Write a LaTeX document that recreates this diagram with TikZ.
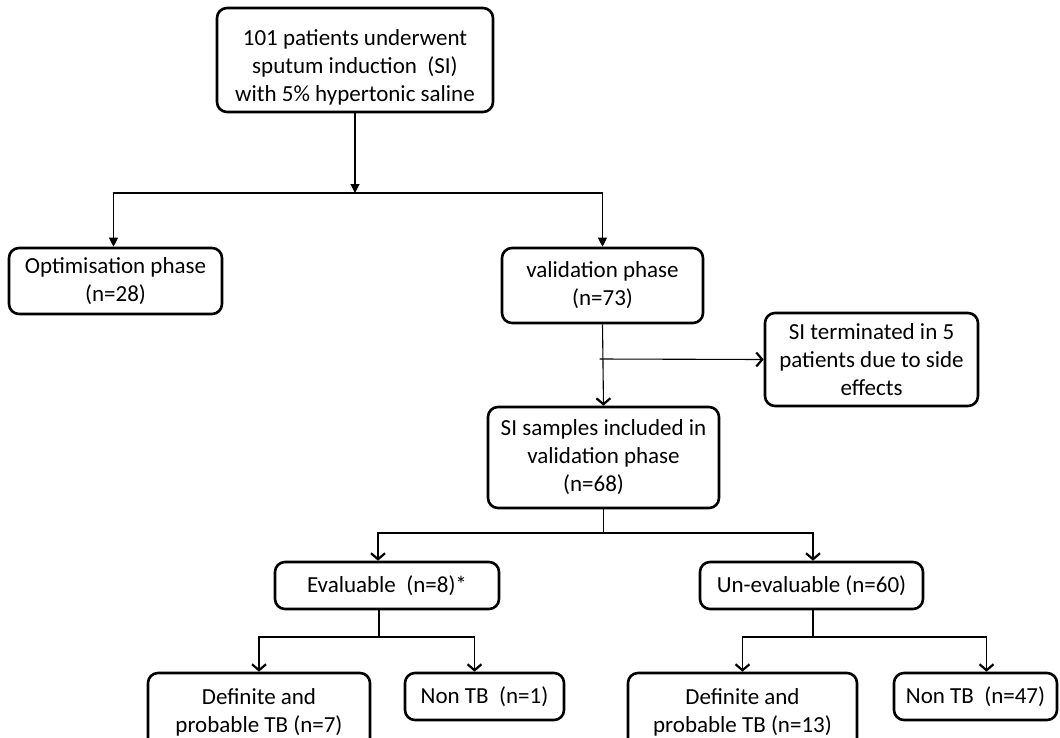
\documentclass[tikz,border=0pt]{standalone}
\usepackage{fontspec}
\setmainfont{Carlito}
\usetikzlibrary{arrows.meta}
\begin{document}
\begin{tikzpicture}[x=1pt, y=-1pt,
  box/.style={draw, line width=2.6pt, rounded corners=10pt, align=center,
    inner sep=0pt, font=\fontsize{23}{28}\selectfont},
  conn/.style={line width=1.1pt},
  tri/.style={conn, -{Triangle[length=9pt,width=9pt]}},
  barb/.style={conn, -{Straight Barb[length=6pt,width=14pt,line width=2.2pt]}}]
\useasboundingbox (0,0) rectangle (1060,737);
\clip (0,0) rectangle (1060,737);
\node[box, minimum width=276pt, minimum height=104pt] (top) at (355,60)
  {\rule{0pt}{30pt}101 patients underwent\\sputum induction\ \ (SI)\\with 5\% hypertonic saline};
\node[box, minimum width=213pt, minimum height=66pt] (opt) at (115.5,281)
  {Optimisation phase\\(n=28)};
\node[box, minimum width=201pt, minimum height=75pt] (val) at (602.5,285.5)
  {validation phase\\(n=73)};
\node[box, minimum width=213pt, minimum height=93pt] (term) at (871.5,359.5)
  {SI terminated in 5\\patients due to side\\effects};
\node[box, minimum width=231pt, minimum height=101pt] (samp) at (603.5,457.5)
  {SI samples included in\\validation phase\\(n=68)\hspace*{20pt}};
\node[box, minimum width=224pt, minimum height=47pt] (eval) at (387,585.5)
  {Evaluable\ \ (n=8)*};
\node[box, minimum width=223pt, minimum height=47pt] (uneval) at (811.5,585.5)
  {Un-evaluable (n=60)};
\node[box, minimum width=222pt, minimum height=78pt] (def1) at (259,712)
  {Definite and\\probable TB (n=7)};
\node[box, minimum width=159pt, minimum height=47pt] (non1) at (484.5,696.5)
  {Non TB\ \ (n=1)};
\node[box, minimum width=229pt, minimum height=78pt] (def2) at (742.5,712)
  {Definite and\\probable TB (n=13)};
\node[box, minimum width=163pt, minimum height=47pt] (non2) at (975.5,696.5)
  {Non TB\ \ (n=47)};
\coordinate (s1) at (top.south |- 0,193);
\coordinate (s2) at (val.south |- 0,359);
\coordinate (s3) at (samp.south |- 0,533);
\coordinate (s4) at ([xshift=-8pt]eval.south |- 0,637);
\coordinate (s5) at ([xshift=1.5pt]uneval.south |- 0,637);
\draw[tri] (top.south) -- (s1);
\draw[tri] (s1) -| ([xshift=-2pt]opt.north);
\draw[tri] (s1) -| (val.north);
\draw[barb] (val.south) -- (samp.north);
\draw[barb] ([xshift=-3pt]s2) -- (term.west);
\draw[conn] (samp.south) -- (s3);
\draw[barb] (s3) -| ([xshift=-9pt]eval.north);
\draw[barb] (s3) -| ([xshift=1.5pt]uneval.north);
\draw[conn] ([xshift=-8pt]eval.south) -- (s4);
\draw[barb] (s4) -| (def1.north);
\draw[barb] (s4) -| ([xshift=-10pt]non1.north);
\draw[conn] ([xshift=1.5pt]uneval.south) -- (s5);
\draw[barb] (s5) -| (def2.north);
\draw[barb] (s5) -| ([xshift=11pt]non2.north);
\end{tikzpicture}
\end{document}
